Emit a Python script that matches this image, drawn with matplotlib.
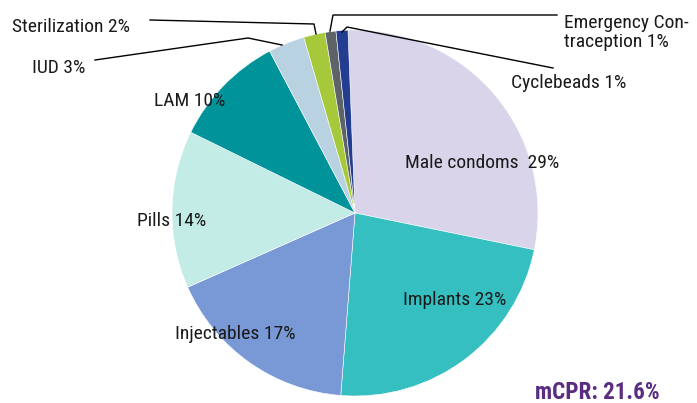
import matplotlib
matplotlib.use("Agg")
import matplotlib.pyplot as plt

# method mix, clockwise from 12 o'clock (shares)
methods = ["Male condoms", "Implants", "Injectables", "Pills", "LAM", "IUD",
           "Sterilization", "Emergency Contraception", "Cyclebeads"]
shares = [28.8, 23.0, 17.1, 13.9, 10.0, 3.2, 1.9, 0.95, 1.05]
labels = ["Male condoms  29%", "Implants 23%", "Injectables 17%", "Pills 14%",
          "LAM 10%", "IUD 3%", "Sterilization 2%", "Emergency Con-\ntraception 1%",
          "Cyclebeads 1%"]
colors = ["#d9d4e9", "#35bfc1", "#7998d6", "#c4ece7", "#00939a", "#b8d2e1",
          "#a6c93b", "#5e6367", "#233e90"]
mcpr = "mCPR: 21.6%"

plt.rcParams['font.family'] = ['Roboto Condensed', 'DejaVu Sans']

W, H = 697, 403
fig = plt.figure(figsize=(W / 100, H / 100), dpi=100)
ax = fig.add_axes([0, 0, 1, 1])

ax.pie(shares, colors=colors, startangle=92.2, counterclock=False,
       center=(355, H - 213), radius=183, frame=True,
       wedgeprops=dict(linewidth=0.4, edgecolor="white"))
ax.set_xlim(0, W)
ax.set_ylim(0, H)
ax.axis('off')

fs = 14
# label placement (image pixel coords: x, baseline y of last line, alignment)
pos = [(482, 168, 'center'), (455, 305, 'center'), (235, 339, 'center'),
       (171.5, 226, 'center'), (190, 106, 'center'), (59, 73, 'center'),
       (71.5, 32, 'center'), (564, 47, 'left'), (569, 88, 'center')]
for lab, (x, y, ha) in zip(labels, pos):
    ax.text(x, H - y, lab, fontsize=fs, ha=ha, va='baseline', color="#1a1a1a",
            linespacing=1.05)

# leader lines for the small slices
leaders = [
    [(95, 60), (248, 38), (282, 45)],      # IUD
    [(150, 20), (314, 24), (316, 34)],     # Sterilization
    [(330, 31), (333, 15), (557, 15)],     # Emergency
    [(342, 32), (347, 27), (553, 68)],     # Cyclebeads
]
for pts in leaders:
    ax.plot([p[0] for p in pts], [H - p[1] for p in pts], color="black", lw=1.0)

ax.text(597.5, H - 399, mcpr, fontsize=16.7, fontweight='bold', color="#5a2d82",
        ha='center', va='baseline')

fig.savefig("out.png", dpi=100)
